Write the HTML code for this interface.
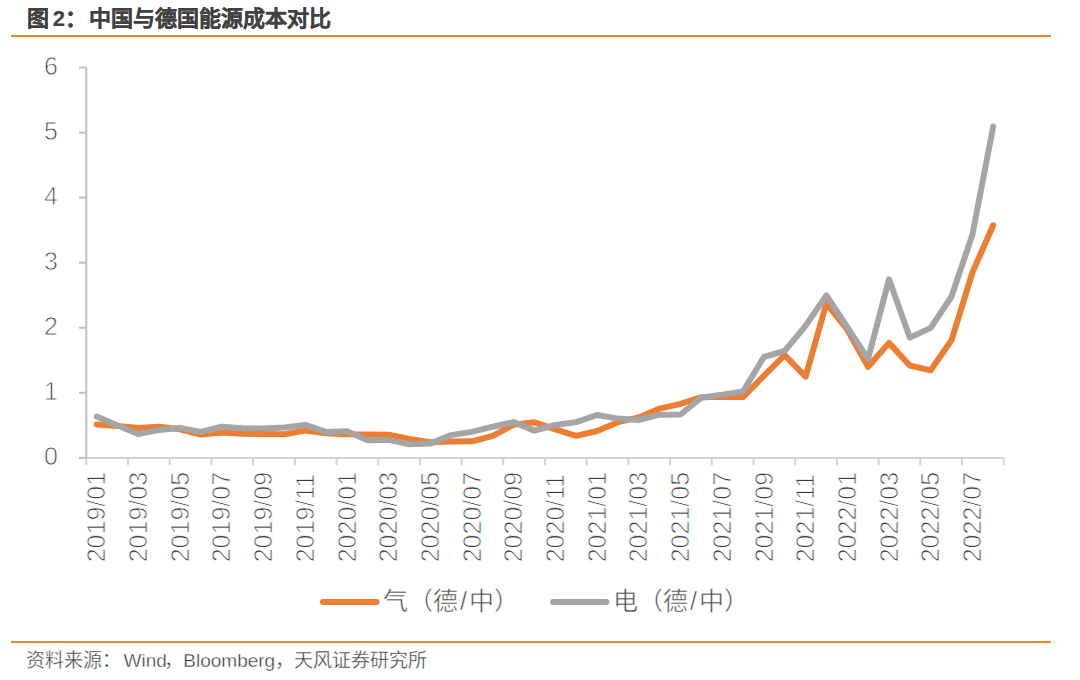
<!DOCTYPE html>
<html lang="zh-CN"><head><meta charset="utf-8"><style>
html,body{margin:0;padding:0;background:#fff;}
body{width:1080px;height:680px;position:relative;overflow:hidden;font-family:"Liberation Sans",sans-serif;}
.t{position:absolute;left:27px;top:3.5px;font-size:22px;font-weight:bold;color:#404040;white-space:nowrap;line-height:30px;-webkit-text-stroke:0.15px #404040;}
.r{position:absolute;left:11px;width:1040px;height:1.8px;background:#F1852A;}
.f{position:absolute;left:26px;top:646.8px;font-size:19px;color:#3a3a3a;white-space:nowrap;line-height:28px;-webkit-text-stroke:0.35px #fff;}
svg{position:absolute;left:0;top:0;}
</style></head><body>
<div class="t">图 <span style="position:relative;left:-2.5px">2：</span>中国与德国能源成本对比</div>
<div class="r" style="top:35.45px"></div>
<svg width="1080" height="680" viewBox="0 0 1080 680">
<g stroke="#D3D3D3" stroke-width="2" fill="none">
<line x1="79" y1="457.9" x2="1003.7" y2="457.9"/>
<line x1="86.2" y1="457.9" x2="86.2" y2="465.3"/><line x1="128.0" y1="457.9" x2="128.0" y2="465.3"/><line x1="169.7" y1="457.9" x2="169.7" y2="465.3"/><line x1="211.4" y1="457.9" x2="211.4" y2="465.3"/><line x1="253.1" y1="457.9" x2="253.1" y2="465.3"/><line x1="294.8" y1="457.9" x2="294.8" y2="465.3"/><line x1="336.5" y1="457.9" x2="336.5" y2="465.3"/><line x1="378.2" y1="457.9" x2="378.2" y2="465.3"/><line x1="419.9" y1="457.9" x2="419.9" y2="465.3"/><line x1="461.6" y1="457.9" x2="461.6" y2="465.3"/><line x1="503.2" y1="457.9" x2="503.2" y2="465.3"/><line x1="545.0" y1="457.9" x2="545.0" y2="465.3"/><line x1="586.7" y1="457.9" x2="586.7" y2="465.3"/><line x1="628.4" y1="457.9" x2="628.4" y2="465.3"/><line x1="670.1" y1="457.9" x2="670.1" y2="465.3"/><line x1="711.8" y1="457.9" x2="711.8" y2="465.3"/><line x1="753.5" y1="457.9" x2="753.5" y2="465.3"/><line x1="795.2" y1="457.9" x2="795.2" y2="465.3"/><line x1="836.9" y1="457.9" x2="836.9" y2="465.3"/><line x1="878.6" y1="457.9" x2="878.6" y2="465.3"/><line x1="920.2" y1="457.9" x2="920.2" y2="465.3"/><line x1="962.0" y1="457.9" x2="962.0" y2="465.3"/><line x1="1003.7" y1="457.9" x2="1003.7" y2="465.3"/>
</g>
<g stroke="#BFBFBF" stroke-width="2" fill="none">
<line x1="86.25" y1="67.5" x2="86.25" y2="457.9"/>
<line x1="79" y1="457.9" x2="86.25" y2="457.9"/><line x1="79" y1="392.8" x2="86.25" y2="392.8"/><line x1="79" y1="327.8" x2="86.25" y2="327.8"/><line x1="79" y1="262.7" x2="86.25" y2="262.7"/><line x1="79" y1="197.6" x2="86.25" y2="197.6"/><line x1="79" y1="132.6" x2="86.25" y2="132.6"/><line x1="79" y1="67.5" x2="86.25" y2="67.5"/>
</g>
<g font-family="Liberation Sans, sans-serif" font-size="25" fill="#3a3a3a" stroke="#fff" stroke-width="0.85">
<text x="58" y="465.2" text-anchor="end">0</text><text x="58" y="400.1" text-anchor="end">1</text><text x="58" y="335.1" text-anchor="end">2</text><text x="58" y="270.0" text-anchor="end">3</text><text x="58" y="204.9" text-anchor="end">4</text><text x="58" y="139.9" text-anchor="end">5</text><text x="58" y="74.8" text-anchor="end">6</text>
<text transform="translate(105.3,562.3) rotate(-90)" >2019/01</text><text transform="translate(147.0,562.3) rotate(-90)" >2019/03</text><text transform="translate(188.7,562.3) rotate(-90)" >2019/05</text><text transform="translate(230.4,562.3) rotate(-90)" >2019/07</text><text transform="translate(272.1,562.3) rotate(-90)" >2019/09</text><text transform="translate(313.8,562.3) rotate(-90)" >2019/11</text><text transform="translate(355.5,562.3) rotate(-90)" >2020/01</text><text transform="translate(397.2,562.3) rotate(-90)" >2020/03</text><text transform="translate(438.9,562.3) rotate(-90)" >2020/05</text><text transform="translate(480.6,562.3) rotate(-90)" >2020/07</text><text transform="translate(522.3,562.3) rotate(-90)" >2020/09</text><text transform="translate(564.0,562.3) rotate(-90)" >2020/11</text><text transform="translate(605.7,562.3) rotate(-90)" >2021/01</text><text transform="translate(647.4,562.3) rotate(-90)" >2021/03</text><text transform="translate(689.1,562.3) rotate(-90)" >2021/05</text><text transform="translate(730.8,562.3) rotate(-90)" >2021/07</text><text transform="translate(772.5,562.3) rotate(-90)" >2021/09</text><text transform="translate(814.2,562.3) rotate(-90)" >2021/11</text><text transform="translate(855.9,562.3) rotate(-90)" >2022/01</text><text transform="translate(897.6,562.3) rotate(-90)" >2022/03</text><text transform="translate(939.3,562.3) rotate(-90)" >2022/05</text><text transform="translate(981.0,562.3) rotate(-90)" >2022/07</text>
</g>
<polyline points="96.7,424.4 117.5,426.0 138.4,428.0 159.2,426.7 180.1,429.3 200.9,434.5 221.8,432.5 242.6,433.8 263.5,434.0 284.3,434.2 305.2,430.6 326.0,433.2 346.9,434.2 367.7,434.5 388.6,434.8 409.4,439.0 430.3,442.3 451.1,441.6 472.0,441.3 492.8,435.8 513.7,424.7 534.5,422.3 555.4,429.3 576.2,435.8 597.1,431.0 617.9,422.2 638.8,417.4 659.6,408.6 680.5,403.9 701.3,397.2 722.2,396.7 743.0,397.1 763.9,375.9 784.7,355.1 805.6,376.6 826.4,303.4 847.3,329.7 868.1,366.8 889.0,342.9 909.8,365.5 930.7,370.3 951.5,340.3 972.4,272.5 993.2,225.3" fill="none" stroke="#ED7D31" stroke-width="6" stroke-linejoin="round" stroke-linecap="round"/>
<polyline points="96.7,416.6 117.5,425.4 138.4,434.1 159.2,429.9 180.1,428.0 200.9,431.9 221.8,426.7 242.6,428.2 263.5,428.6 284.3,427.6 305.2,424.9 326.0,431.9 346.9,431.2 367.7,440.3 388.6,439.9 409.4,444.2 430.3,443.6 451.1,435.1 472.0,431.9 492.8,426.7 513.7,422.1 534.5,430.6 555.4,425.0 576.2,422.1 597.1,415.0 617.9,418.6 638.8,419.9 659.6,414.7 680.5,414.5 701.3,397.7 722.2,394.6 743.0,391.5 763.9,357.0 784.7,350.9 805.6,325.8 826.4,295.4 847.3,327.1 868.1,358.8 889.0,279.3 909.8,337.6 930.7,327.9 951.5,296.5 972.4,234.7 993.2,126.5" fill="none" stroke="#A5A5A5" stroke-width="6" stroke-linejoin="round" stroke-linecap="round"/>
<line x1="323" y1="602" x2="376.5" y2="602" stroke="#ED7D31" stroke-width="6" stroke-linecap="round"/>
<line x1="553" y1="602" x2="606.5" y2="602" stroke="#A5A5A5" stroke-width="6" stroke-linecap="round"/>
<g font-family="Liberation Sans, sans-serif" font-size="25" fill="#474747" stroke="#fff" stroke-width="0.5">
<text x="383" y="610">气（德<tspan dx="2">/</tspan><tspan dx="2">中）</tspan></text>
<text x="613" y="610">电（德<tspan dx="2">/</tspan><tspan dx="2">中）</tspan></text>
</g>
</svg>
<div class="r" style="top:641.45px"></div>
<div class="f">资料来源：<span style="position:relative;left:2.5px">Wind</span>，Bloomberg，天风证券研究所</div>
</body></html>
